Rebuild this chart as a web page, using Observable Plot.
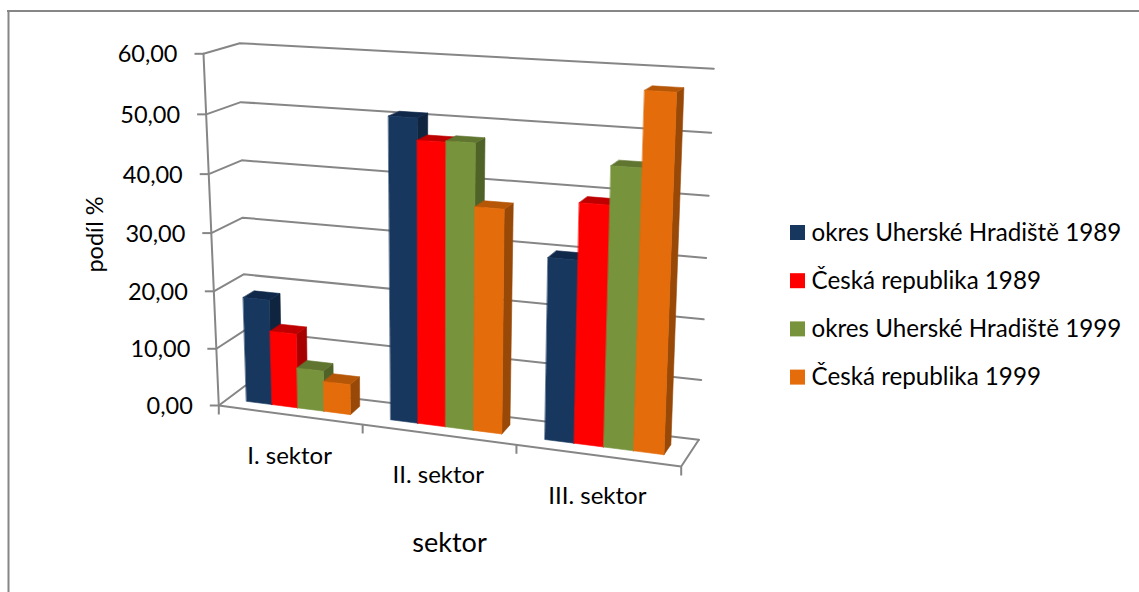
<!DOCTYPE html>
<html>
<head>
<meta charset="utf-8">
<script src="https://cdn.jsdelivr.net/npm/d3@7"></script>
<script src="https://cdn.jsdelivr.net/npm/@observablehq/plot@0.6"></script>
<style>
html,body{margin:0;padding:0;background:#fff}
svg{display:block}
</style>
</head>
<body>
<div id="chart"></div>
<script>
const categories = ["I. sektor", "II. sektor", "III. sektor"];
const seriesNames = ["okres Uherské Hradiště 1989", "Česká republika 1989", "okres Uherské Hradiště 1999", "Česká republika 1999"];
const okres1989 = [18.3, 50.9, 30.0];
const cr1989 = [12.9, 47.3, 39.2];
const okres1999 = [7.0, 47.5, 45.4];
const cr1999 = [5.2, 37.2, 57.4];
const seriesValues = [okres1989, cr1989, okres1999, cr1999];
const yTicks = [0, 10, 20, 30, 40, 50, 60];
const frontColors = ["#17375E", "#FF0000", "#77933C", "#E46C0A"];
const topColors = ["#10294A", "#BF0000", "#5F7530", "#B65708"];
const sideColors = ["#0F243E", "#A60000", "#4F6228", "#984807"];
const GRID = "#868686";
const FONT = "Lato, Carlito, sans-serif";

// Projection of the 3-D box onto the page (box corners on the page).
const corners = {
  f0l: [218.3, 405], f0r: [680.7, 466], b0l: [245, 385], b0r: [698.3, 439.3],
  f1l: [203, 53.3], f1r: [695, 79.7], b1l: [239.3, 42.7], b1r: [713.3, 68.3]
};
const lerp = (a, b, t) => [a[0] + (b[0] - a[0]) * t, a[1] + (b[1] - a[1]) * t];
const persU = s => s / (1 + 0.107 * (1 - s));
const persV = v => { const s = v / 60; return s / (1 + 0.04 * (1 - s)); };
function project(s, d, v) {
  const u = persU(s), t = persV(v), c = corners;
  const floor = lerp(lerp(c.f0l, c.f0r, u), lerp(c.b0l, c.b0r, u), d);
  const top = lerp(lerp(c.f1l, c.f1r, u), lerp(c.b1l, c.b1r, u), d);
  const p = lerp(floor, top, t);
  return {x: p[0], y: p[1]};
}

// gap width 150 %: each category holds 4 bars + 1.5 bar widths of gap
const barW = (1 / categories.length) / 5.5;
const D0 = 0.33, D1 = 0.71;

const polys = [];
categories.forEach((cat, c) => {
  seriesValues.forEach((vals, i) => {
    const s0 = c / categories.length + barW * (0.75 + i), s1 = s0 + barW, v = vals[c];
    const add = (id, color, pts) => pts.forEach(p => polys.push({id, color, ...p}));
    add(`${c}-${i}-side`, sideColors[i], [project(s1, D0, 0), project(s1, D1, 0), project(s1, D1, v), project(s1, D0, v)]);
    add(`${c}-${i}-top`, topColors[i], [project(s0, D0, v), project(s1, D0, v), project(s1, D1, v), project(s0, D1, v)]);
    add(`${c}-${i}-front`, frontColors[i], [project(s0, D0, 0), project(s1, D0, 0), project(s1, D0, v), project(s0, D0, v)]);
  });
});

const gridLines = yTicks.flatMap(v => [project(0, 0, v), project(0, 1, v), project(1, 1, v)].map(p => ({id: v, ...p})));
const axisLine = [project(0, 0, 0), project(0, 0, 60)];
const floorLine = [project(0, 0, 0), project(1, 0, 0), project(1, 1, 0)];
const yTickData = yTicks.map(v => ({v, ...project(0, 0, v)}));
const xTickData = [0, 1, 2, 3].map(k => project(k / 3, 0, 0));
const catLabels = categories.map((name, c) => ({name, ...project((c + 0.5) / 3, 0, 0)}));
const legendRows = seriesNames.map((name, i) => ({name, color: frontColors[i], y: 232.5 + 48.2 * i}));

const plot = Plot.plot({
  width: 1139, height: 592,
  marginLeft: 0, marginRight: 0, marginTop: 0, marginBottom: 0,
  x: {domain: [0, 1139], range: [0, 1139], axis: null},
  y: {domain: [0, 592], range: [0, 592], axis: null},
  style: {fontFamily: FONT, background: "#fff", color: "#000"},
  marks: [
    // outer frame
    Plot.ruleX([8], {y1: 10, y2: 592, stroke: GRID, strokeWidth: 2}),
    Plot.ruleY([10.5], {x1: 7, x2: 1139, stroke: GRID, strokeWidth: 2}),
    // walls and floor
    Plot.line(gridLines, {x: "x", y: "y", z: "id", stroke: GRID, strokeWidth: 2}),
    Plot.line(axisLine, {x: "x", y: "y", stroke: GRID, strokeWidth: 2}),
    Plot.line(floorLine, {x: "x", y: "y", stroke: GRID, strokeWidth: 2}),
    Plot.link(yTickData, {x1: d => d.x - 9, x2: "x", y1: "y", y2: "y", stroke: GRID, strokeWidth: 2}),
    Plot.link(xTickData, {x1: "x", x2: "x", y1: "y", y2: d => d.y + 9, stroke: GRID, strokeWidth: 2}),
    // bars
    Plot.line(polys, {x: "x", y: "y", z: "id", fill: "color", stroke: "color", strokeWidth: 0.6, curve: "linear-closed"}),
    // text
    Plot.text(yTickData, {x: "x", y: "y", text: d => d3.format(".2f")(d.v).replace(".", ","), textAnchor: "end", dx: -26, dy: 1, fontSize: 23.5, fill: "#000"}),
    Plot.text(catLabels, {x: "x", y: "y", text: "name", dy: 41, fontSize: 24, fill: "#000"}),
    Plot.text(["podíl %"], {x: 95, y: 234, rotate: -90, fontSize: 23.5, fill: "#000"}),
    Plot.text(["sektor"], {x: 449, y: 543, fontSize: 27, fill: "#000"}),
    // legend
    Plot.rect(legendRows, {x1: 790, x2: 805, y1: d => d.y - 7.5, y2: d => d.y + 7.5, fill: "color"}),
    Plot.text(legendRows, {x: 811, y: "y", text: "name", textAnchor: "start", fontSize: 24.2, fill: "#000"})
  ]
});
document.getElementById("chart").appendChild(plot);
</script>
</body>
</html>
